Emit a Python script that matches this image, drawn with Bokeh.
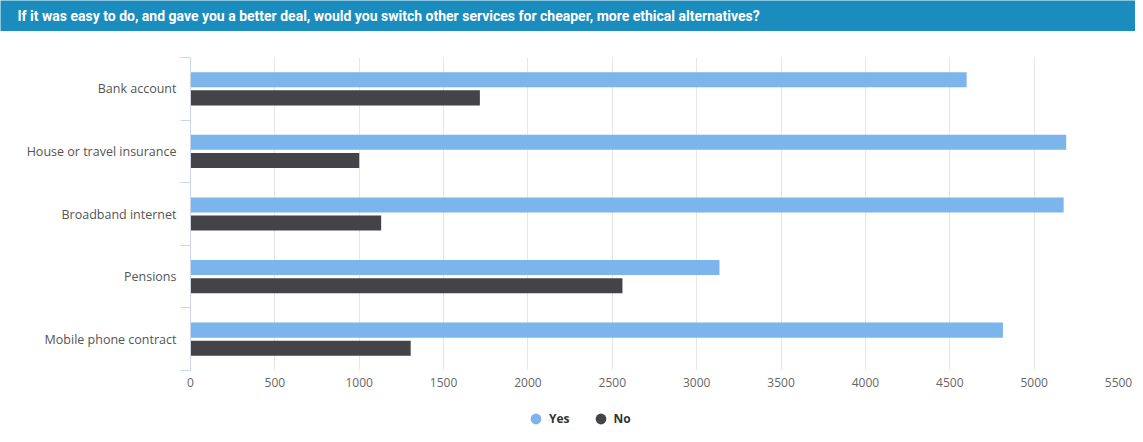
from bokeh.plotting import figure
from bokeh.models import (Range1d, FixedTicker, Label, Legend, LegendItem,
                          ColumnDataSource)
from bokeh.layouts import column
from bokeh.transform import dodge
from bokeh.embed import file_html
from bokeh.resources import INLINE

# ---- data ----
title_text = ("If it was easy to do, and gave you a better deal, would you switch "
              "other services for cheaper, more ethical alternatives?")
categories = ["Bank account", "House or travel insurance", "Broadband internet",
              "Pensions", "Mobile phone contract"]
yes_values = [4600, 5190, 5175, 3135, 4815]
no_values = [1715, 1000, 1130, 2560, 1305]
x_ticks = [0, 500, 1000, 1500, 2000, 2500, 3000, 3500, 4000, 4500, 5000, 5500]
series_names = ["Yes", "No"]
series_colors = ["#7cb5ec", "#434348"]

n = len(categories)
positions = [n - 1 - i for i in range(n)]
src = ColumnDataSource(dict(cat=categories, pos=positions, yes=yes_values, no=no_values))

FONT = "Open Sans"
W = 1135

# ---- header bar ----
header = figure(width=W, height=31, toolbar_location=None, output_backend="svg",
                x_range=Range1d(0, 1), y_range=Range1d(0, 1),
                x_axis_type=None, y_axis_type=None, min_border=0, title=None)
header.frame_align = False
header.background_fill_color = "#1a8cbd"
header.border_fill_color = "#1a8cbd"
header.outline_line_color = None
header.grid.visible = False
header.add_layout(Label(x=17, y=16, x_units="screen", y_units="screen", text=title_text,
                        text_baseline="middle", text_align="left", text_color="white",
                        text_font="Roboto", text_font_style="bold",
                        text_font_size="14px"))

# ---- main chart ----
p = figure(width=W, height=364, toolbar_location=None, output_backend="svg",
           x_range=Range1d(0, 5500), y_range=Range1d(-0.5, n - 0.5), title=None,
           min_border_left=190, min_border_right=17, min_border_top=26,
           min_border_bottom=25)
p.frame_align = False
p.outline_line_color = None
p.background_fill_color = "white"
p.border_fill_color = "white"

r_yes = p.hbar(y=dodge("pos", 0.145), right="yes", left=0, height=0.24, source=src,
               fill_color=series_colors[0], line_color=None)
r_no = p.hbar(y=dodge("pos", -0.145), right="no", left=0, height=0.24, source=src,
              fill_color=series_colors[1], line_color=None)

# x axis (values)
p.xaxis.ticker = FixedTicker(ticks=x_ticks)
p.xaxis.axis_line_color = None
p.xaxis.major_tick_line_color = None
p.xaxis.minor_tick_line_color = None
p.xaxis.major_tick_out = 0
p.xaxis.major_label_standoff = 7
p.xaxis.major_label_text_font = FONT
p.xaxis.major_label_text_font_size = "12px"
p.xaxis.major_label_text_color = "#666666"
p.xgrid.ticker = FixedTicker(ticks=x_ticks)
p.xgrid.grid_line_color = "#e6e6e6"
p.ygrid.visible = False

# y axis (categories)
p.yaxis.ticker = FixedTicker(ticks=positions,
                             minor_ticks=[k - 0.5 for k in range(n + 1)])
p.yaxis.major_label_overrides = {pos: c for pos, c in zip(positions, categories)}
p.yaxis.axis_line_color = "#ccd6eb"
p.yaxis.major_tick_line_color = None
p.yaxis.major_tick_out = 0
p.yaxis.major_tick_in = 0
p.yaxis.minor_tick_line_color = "#ccd6eb"
p.yaxis.minor_tick_out = 10
p.yaxis.minor_tick_in = 0
p.yaxis.major_label_standoff = 4
p.yaxis.major_label_text_font = FONT
p.yaxis.major_label_text_font_size = "12.5px"
p.yaxis.major_label_text_color = "#555555"

# ---- legend strip ----
leg = figure(width=W, height=39, toolbar_location=None, output_backend="svg",
             x_range=Range1d(0, 1), y_range=Range1d(0, 1),
             x_axis_type=None, y_axis_type=None, min_border=0, title=None)
leg.frame_align = False
leg.outline_line_color = None
leg.grid.visible = False
dummy = ColumnDataSource(dict(x=[float("nan")], y=[float("nan")]))
m_yes = leg.scatter(x="x", y="y", source=dummy, marker="circle", size=10,
                    fill_color=series_colors[0], line_color=None)
m_no = leg.scatter(x="x", y="y", source=dummy, marker="circle", size=10,
                   fill_color=series_colors[1], line_color=None)
legend = Legend(items=[LegendItem(label=series_names[0], renderers=[m_yes], index=0),
                       LegendItem(label=series_names[1], renderers=[m_no], index=0)],
                orientation="horizontal", location=(522, 2),
                glyph_width=27, glyph_height=27, label_standoff=0, spacing=17,
                padding=0, margin=0, border_line_color=None,
                background_fill_alpha=0,
                label_text_font=FONT, label_text_font_style="bold",
                label_text_font_size="12px", label_text_color="#333333")
leg.add_layout(legend, "center")

layout = column(header, p, leg, spacing=0)
open("out.html", "w").write(file_html(layout, INLINE))
